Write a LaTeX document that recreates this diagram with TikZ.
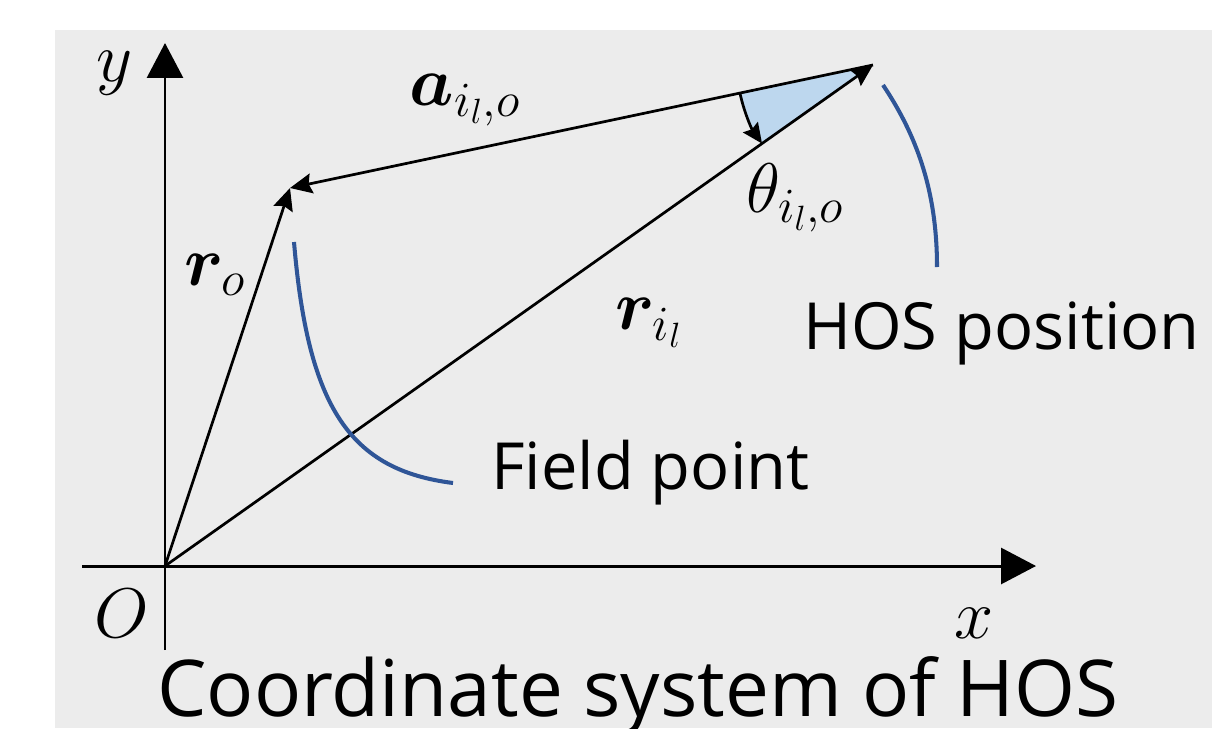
\RequirePackage{fix-cm}
\documentclass[tikz,border=0pt]{standalone}
\usepackage{amsmath}
\usepackage{bm}
\usepackage[no-math]{fontspec}
\setmainfont{Open Sans}
\usetikzlibrary{arrows.meta}
\definecolor{bggray}{RGB}{236,236,236}
\definecolor{leadblue}{RGB}{47,85,151}
\definecolor{anglefill}{RGB}{189,215,238}
\begin{document}
\begin{tikzpicture}[x=0.02cm,y=0.02cm,
  >={Stealth[length=0.44cm,width=0.4cm,inset=0.06cm]},
  axis/.style={line width=1.7pt,-{Triangle[length=0.7cm,width=0.72cm]}},
  vec/.style={line width=1.55pt,->},
  lead/.style={line width=2.3pt,leadblue},
  lbl/.style={inner sep=0pt,font=\fontsize{40}{48}\selectfont},
  txt/.style={inner sep=0pt,anchor=base west,font=\fontsize{37}{44}\selectfont}]
\useasboundingbox (0,0) rectangle (1212,728);
\fill[bggray] (55,0) rectangle (1212,698);
\coordinate (O) at (165,162);
\coordinate (FP) at (290,540);
\coordinate (HOS) at (873,663);
\coordinate (ybot) at (165,78);
\coordinate (ytop) at (165,685);
\coordinate (xleft) at (82,162);
\coordinate (xright) at (1036,162);
\coordinate (fpa) at (294,486);
\coordinate (fpb) at (453,245);
\coordinate (hosa) at (883,643);
\coordinate (hosb) at (937,461);
\fill[anglefill] (HOS) -- ++(191.9:2.72cm) arc[start angle=191.9,end angle=215.3,radius=2.72cm] -- cycle;
\draw[axis] (ybot) -- (ytop);
\draw[axis] (xleft) -- (xright);
\draw[vec] (O) -- (FP);
\draw[vec] (O) -- (HOS);
\draw[vec] (HOS) -- (FP);
\draw[vec,>={Stealth[length=0.4cm,width=0.36cm,inset=0.05cm]}] (HOS) ++(191.9:2.72cm) arc[start angle=191.9,end angle=215.3,radius=2.72cm];
\draw[lead] (fpa) .. controls (308,320) and (350,258) .. (fpb);
\draw[lead] (hosa) .. controls (915,595) and (937,540) .. (hosb);
\node[lbl] (ylbl) at (115,655) {$y$};
\node[lbl] (xlbl) at (974,105) {$x$};
\node[lbl] (olbl) at (122,115) {$O$};
\node[lbl] (albl) at (465,628) {$\bm{a}_{i_l,o}$};
\node[lbl] (thlbl) at (795,530) {$\theta_{i_l,o}$};
\node[lbl] (rolbl) at (215,453) {$\bm{r}_o$};
\node[lbl] (rilbl) at (649,405) {$\bm{r}_{i_l}$};
\node[txt] (hoslbl) at (803,379) {HOS position};
\node[txt] (fplbl) at (491,239) {Field point};
\node[txt,font=\fontsize{44.6}{52}\selectfont] (title) at (157,12) {Coordinate system of HOS};
\end{tikzpicture}
\end{document}
